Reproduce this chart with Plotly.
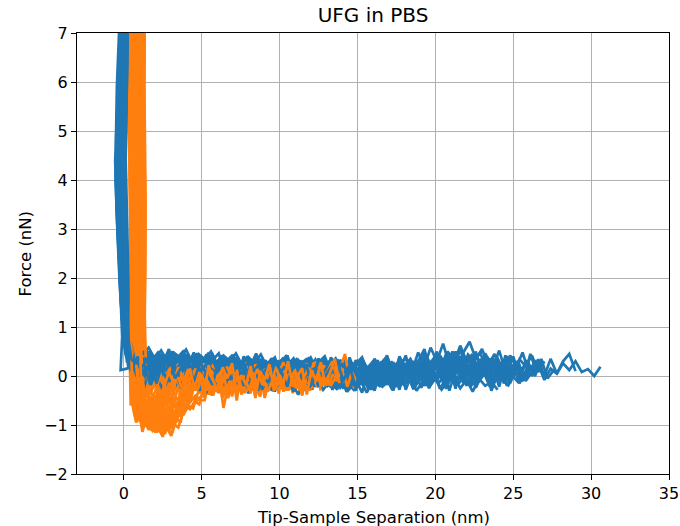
import plotly.graph_objects as go

# ---------------- data ----------------
title_text = "UFG in PBS"
x_label = "Tip-Sample Separation (nm)"
y_label = "Force (nN)"
x_ticks = [0, 5, 10, 15, 20, 25, 30, 35]
y_ticks = [-2, -1, 0, 1, 2, 3, 4, 5, 6, 7]

# separation samples (nm) of the baseline parts (four sampling sets)
approach_sep_grid_a = [
    0.6, 1.0, 1.4, 1.8, 2.2, 2.6, 3.0, 3.4, 3.8, 4.2,
    4.6, 5.0, 5.4, 5.8, 6.2, 6.6, 7.0, 7.4, 7.8, 8.2,
    8.6, 9.0, 9.4, 9.8, 10.2, 10.6, 11.0, 11.4, 11.8, 12.2,
    12.6, 13.0, 13.4, 13.8, 14.2, 14.6, 15.0, 15.4, 15.8, 16.2,
    16.6, 17.0, 17.4, 17.8, 18.2, 18.6, 19.0, 19.4, 19.8, 20.2,
    20.6, 21.0, 21.4, 21.8, 22.2, 22.6, 23.0, 23.4, 23.8, 24.2,
    24.6, 25.0, 25.4, 25.8, 26.2, 26.6, 27.0, 27.4, 27.8, 28.2,
    28.6, 29.0, 29.4, 29.8, 30.2, 30.6]
approach_sep_grid_b = [
    0.8, 1.2, 1.6, 2.0, 2.4, 2.8, 3.2, 3.6, 4.0, 4.4,
    4.8, 5.2, 5.6, 6.0, 6.4, 6.8, 7.2, 7.6, 8.0, 8.4,
    8.8, 9.2, 9.6, 10.0, 10.4, 10.8, 11.2, 11.6, 12.0, 12.4,
    12.8, 13.2, 13.6, 14.0, 14.4, 14.8, 15.2, 15.6, 16.0, 16.4,
    16.8, 17.2, 17.6, 18.0, 18.4, 18.8, 19.2, 19.6, 20.0, 20.4,
    20.8, 21.2, 21.6, 22.0, 22.4, 22.8, 23.2, 23.6, 24.0, 24.4,
    24.8, 25.2, 25.6, 26.0, 26.4, 26.8, 27.2, 27.6]
approach_sep_grid_c = [
    0.7, 1.1, 1.5, 1.9, 2.3, 2.7, 3.1, 3.5, 3.9, 4.3,
    4.7, 5.1, 5.5, 5.9, 6.3, 6.7, 7.1, 7.5, 7.9, 8.3,
    8.7, 9.1, 9.5, 9.9, 10.3, 10.7, 11.1, 11.5, 11.9, 12.3,
    12.7, 13.1, 13.5, 13.9, 14.3, 14.7, 15.1, 15.5, 15.9, 16.3,
    16.7, 17.1, 17.5, 17.9, 18.3, 18.7, 19.1, 19.5, 19.9, 20.3,
    20.7, 21.1, 21.5, 21.9, 22.3, 22.7, 23.1, 23.5, 23.9, 24.3,
    24.7, 25.1, 25.5, 25.9, 26.3]
approach_sep_grid_d = [
    0.9, 1.3, 1.7, 2.1, 2.5, 2.9, 3.3, 3.7, 4.1, 4.5,
    4.9, 5.3, 5.7, 6.1, 6.5, 6.9, 7.3, 7.7, 8.1, 8.5,
    8.9, 9.3, 9.7, 10.1, 10.5, 10.9, 11.3, 11.7, 12.1, 12.5,
    12.9, 13.3, 13.7, 14.1, 14.5, 14.9, 15.3, 15.7, 16.1, 16.5,
    16.9, 17.3, 17.7, 18.1, 18.5, 18.9, 19.3, 19.7, 20.1, 20.5,
    20.9, 21.3, 21.7, 22.1, 22.5, 22.9, 23.3, 23.7, 24.1, 24.5,
    24.9, 25.3, 25.7, 26.1, 26.5]
retract_sep_grid_a = [
    1.6, 1.9, 2.2, 2.5, 2.8, 3.1, 3.4, 3.7, 4.0, 4.3,
    4.6, 4.9, 5.2, 5.5, 5.8, 6.1, 6.4, 6.7, 7.0, 7.3,
    7.6, 7.9, 8.2, 8.5, 8.8, 9.1, 9.4, 9.7, 10.0, 10.3,
    10.6, 10.9, 11.2, 11.5, 11.8, 12.1, 12.4, 12.7, 13.0, 13.3,
    13.6, 13.9, 14.2, 14.5, 14.8, 15.1, 15.4, 15.7]
retract_sep_grid_b = [
    1.75, 2.05, 2.35, 2.65, 2.95, 3.25, 3.55, 3.85, 4.15, 4.45,
    4.75, 5.05, 5.35, 5.65, 5.95, 6.25, 6.55, 6.85, 7.15, 7.45,
    7.75, 8.05, 8.35, 8.65, 8.95, 9.25, 9.55, 9.85, 10.15, 10.45,
    10.75, 11.05, 11.35, 11.65, 11.95, 12.25, 12.55, 12.85, 13.15, 13.45,
    13.75, 14.05, 14.35, 14.65, 14.95]
retract_sep_grid_c = [
    1.7, 2.0, 2.3, 2.6, 2.9, 3.2, 3.5, 3.8, 4.1, 4.4,
    4.7, 5.0, 5.3, 5.6, 5.9, 6.2, 6.5, 6.8, 7.1, 7.4,
    7.7, 8.0, 8.3, 8.6, 8.9, 9.2, 9.5, 9.8, 10.1, 10.4,
    10.7, 11.0, 11.3, 11.6, 11.9, 12.2, 12.5, 12.8, 13.1, 13.4,
    13.7, 14.0, 14.3]
retract_sep_grid_d = [
    1.85, 2.15, 2.45, 2.75, 3.05, 3.35, 3.65, 3.95, 4.25, 4.55,
    4.85, 5.15, 5.45, 5.75, 6.05, 6.35, 6.65, 6.95, 7.25, 7.55,
    7.85, 8.15, 8.45, 8.75, 9.05, 9.35, 9.65, 9.95, 10.25, 10.55,
    10.85, 11.15, 11.45, 11.75, 12.05, 12.35, 12.65, 12.95, 13.25, 13.55,
    13.85]

# ---- approach curves, set a: contact wall + baseline on grid a ----
approach_wall_sep_a = [
    [0.20, 0.12, 0.02, -0.05, 0.05, 0.15, 0.25, 0.35],
    [0.05, -0.05, -0.20, -0.30, -0.15, 0.00, 0.15, 0.30],
    [-0.15, -0.25, -0.40, -0.50, -0.35, -0.20, -0.10, -0.20, 0.20],
    [0.28, 0.22, 0.15, 0.10, 0.18, 0.26, 0.32, 0.38],
    [-0.05, -0.12, -0.30, -0.45, -0.30, -0.10, 0.05, 0.20],
    [0.10, 0.00, -0.10, -0.20, -0.10, 0.05, 0.20, 0.30],
    [-0.22, -0.30, -0.45, -0.52, -0.40, -0.25, -0.05, 0.15],
    [0.15, 0.08, -0.02, -0.10, 0.00, 0.12, 0.24, 0.32],
    [0.00, -0.08, -0.25, -0.35, -0.22, -0.05, 0.10, 0.28],
    [0.25, 0.18, 0.08, 0.02, 0.12, 0.22, 0.30, 0.40],
]
approach_wall_force_a = [
    [7.8, 6.4, 5.1, 3.9, 2.7, 1.5, 0.8, 0.45],
    [7.8, 6.6, 5.3, 4.1, 2.9, 1.7, 0.9, 0.5],
    [7.8, 6.5, 5.0, 4.0, 2.8, 1.6, 0.8, 0.12, 0.15],
    [7.8, 6.3, 5.2, 3.8, 2.6, 1.4, 0.7, 0.35],
    [7.8, 6.5, 5.1, 4.2, 3.0, 1.8, 0.9, 0.3],
    [7.8, 6.2, 4.8, 3.6, 2.4, 1.3, 0.6, 0.25],
    [7.8, 6.4, 5.0, 4.0, 2.9, 1.8, 1.0, 0.4],
    [7.8, 6.6, 5.4, 4.2, 3.0, 1.9, 1.0, 0.55],
    [7.8, 6.3, 4.9, 3.7, 2.5, 1.4, 0.7, 0.2],
    [7.8, 6.5, 5.2, 4.0, 2.8, 1.6, 0.8, 0.4],
]
approach_base_force_a = [
    [0.42, 0.30, 0.45, 0.22, 0.38, 0.18, 0.33, 0.12, 0.29, 0.20,
     0.36, 0.08, 0.25, 0.15, 0.31, 0.05, 0.22, 0.27, 0.10, 0.24,
     0.02, 0.19, 0.28, 0.09, 0.21, 0.14, 0.30, 0.04, 0.17, 0.23,
     0.07, 0.26, 0.12, 0.01, 0.16],
    [0.35, 0.20, 0.28, 0.05, 0.24, -0.02, 0.18, 0.10, 0.22, -0.05,
     0.14, 0.02, 0.19, -0.08, 0.12, 0.06, -0.03, 0.15, -0.10, 0.09,
     0.01, 0.13, -0.06, 0.08, 0.17, -0.04, 0.05, 0.11, -0.12, 0.07,
     0.14, -0.02, 0.10, -0.07, 0.04, 0.12, -0.05, 0.08, 0.00, 0.10,
     0.03],
    [0.22, 0.40, 0.15, 0.32, 0.08, 0.27, 0.19, 0.35, 0.05, 0.24,
     0.12, 0.30, -0.02, 0.20, 0.10, 0.26, 0.03, 0.18, 0.09, 0.28,
     -0.05, 0.15, 0.22, 0.01, 0.19, 0.07, 0.25, -0.04, 0.14, 0.08,
     0.21, 0.00, 0.16, 0.11, -0.06, 0.18, 0.05, 0.23, -0.02, 0.12,
     0.07, 0.20, -0.03, 0.14, 0.09, 0.02, 0.17, 0.06],
    [0.50, 0.38, 0.55, 0.30, 0.46, 0.25, 0.41, 0.33, 0.48, 0.20,
     0.37, 0.28, 0.42, 0.16, 0.34, 0.24, 0.39, 0.12, 0.30, 0.22,
     0.35, 0.10, 0.27, 0.18, 0.33, 0.08, 0.25, 0.30, 0.14, 0.28,
     0.06, 0.22, 0.17, 0.31, 0.09, 0.24, 0.13, 0.29, 0.05, 0.20,
     0.15, 0.32, 0.07, 0.23, 0.11, 0.27, 0.02, 0.19, 0.14, 0.30,
     0.08, 0.25, 0.12, 0.35],
    [0.28, 0.10, 0.20, -0.05, 0.15, -0.12, 0.08, 0.02, 0.18, -0.15,
     0.05, -0.08, 0.12, -0.20, 0.03, 0.10, -0.10, 0.06, -0.25, 0.00,
     0.09, -0.14, 0.04, -0.06, 0.11, -0.18, 0.02, 0.07, -0.22, -0.03,
     0.08, -0.11, 0.05, -0.16, 0.01, 0.10, -0.09, 0.03, -0.19, 0.06,
     -0.04, 0.12, -0.13, 0.00, 0.09, -0.21, 0.04, -0.07, 0.11, -0.15,
     0.02, 0.14, -0.10, 0.06, -0.18, 0.08, -0.02, 0.16, -0.05],
    [0.45, 0.25, 0.38, 0.15, 0.33, 0.10, 0.28, 0.20, 0.36, 0.05,
     0.24, 0.14, 0.30, 0.02, 0.21, 0.12, 0.27, -0.02, 0.18, 0.09,
     0.25, 0.00, 0.16, 0.22, 0.04, 0.19, 0.11, 0.26, -0.03, 0.15,
     0.08, 0.23, 0.01, 0.17, 0.12, 0.28, -0.01, 0.14, 0.06, 0.24,
     0.03, 0.18, 0.10, 0.31, 0.05, 0.20, -0.04, 0.22, 0.12, 0.38,
     0.07, 0.26, 0.15, 0.42, 0.02, 0.19, 0.30, -0.02, 0.25, 0.10,
     0.33, 0.06, 0.20],
    [0.30, 0.05, 0.22, -0.08, 0.14, -0.02, 0.18, -0.12, 0.10, 0.00,
     0.16, -0.18, 0.06, -0.05, 0.12, -0.25, 0.02, 0.08, -0.15, 0.04,
     -0.30, 0.00, 0.10, -0.12, 0.05, -0.06, 0.13, -0.20, 0.01, 0.07,
     -0.10, 0.11, -0.28, 0.03, -0.04, 0.09, -0.16, 0.06, -0.08, 0.14,
     -0.22, 0.02, 0.08, -0.12, 0.05, -0.26, 0.00, 0.12, -0.09, 0.07,
     -0.18, 0.04, 0.15, -0.14, 0.09, -0.24, 0.03, 0.18, -0.06, 0.11,
     -0.20, 0.06, 0.22, -0.10, 0.08],
    [0.55, 0.40, 0.52, 0.32, 0.48, 0.28, 0.44, 0.36, 0.50, 0.25,
     0.40, 0.30, 0.45, 0.20, 0.38, 0.27, 0.41, 0.18, 0.34, 0.24,
     0.37, 0.15, 0.30, 0.22, 0.35, 0.12, 0.28, 0.20, 0.33, 0.10,
     0.26, 0.18, 0.31, 0.08, 0.24, 0.16, 0.30, 0.06, 0.22, 0.14,
     0.28, 0.05, 0.20, 0.12, 0.26, 0.04, 0.19, 0.30, 0.10, 0.25,
     0.15, 0.36, 0.20, 0.48, 0.70, 0.35, 0.55, 0.22, 0.45, 0.15,
     0.40, 0.10, 0.34, 0.20, 0.42, 0.08, 0.30],
    [0.20, 0.02, 0.12, -0.10, 0.08, -0.15, 0.05, -0.04, 0.10, -0.20,
     0.00, 0.06, -0.12, 0.03, -0.22, 0.01, 0.07, -0.16, -0.02, 0.05,
     -0.25, 0.00, 0.04, -0.14, 0.08, -0.08, -0.20, 0.02, 0.06, -0.18,
     -0.03, 0.05, -0.12, 0.09, -0.24, 0.00, 0.03, -0.15, 0.07, -0.06,
     -0.21, 0.02, 0.08, -0.10, 0.04, -0.27, 0.01, 0.10, -0.13, 0.05,
     -0.18, 0.06, 0.14, -0.08, 0.12, -0.22, 0.04, 0.16, -0.12, 0.08,
     -0.05, 0.20, -0.15, 0.10, 0.02, 0.25, -0.08, 0.15, 0.05, 0.30,
     0.45, 0.10],
    [0.40, 0.22, 0.35, 0.10, 0.30, 0.05, 0.26, 0.15, 0.32, 0.00,
     0.20, 0.12, 0.28, -0.05, 0.18, 0.08, 0.24, -0.10, 0.14, 0.04,
     0.21, -0.06, 0.12, 0.18, -0.02, 0.15, 0.06, 0.22, -0.12, 0.10,
     0.03, 0.19, -0.04, 0.13, 0.08, 0.25, -0.08, 0.11, 0.02, 0.20,
     -0.03, 0.14, 0.06, 0.26, 0.00, 0.16, -0.10, 0.18, 0.09, 0.30,
     -0.05, 0.22, 0.12, 0.38, 0.15, 0.50, 0.05, 0.32, -0.10, 0.24,
     0.08, 0.40, -0.02, 0.28, 0.10, 0.34, 0.00, 0.35, 0.05, 0.26,
     0.12, 0.30, 0.08, 0.14, 0.00, 0.19],
]

# ---- approach curves, set b ----
approach_wall_sep_b = [
    [0.10, 0.02, -0.12, -0.25, -0.18, -0.05, 0.10, 0.30, 0.55],
    [-0.08, -0.18, -0.32, -0.42, -0.28, -0.12, 0.02, 0.20, 0.50],
    [0.22, 0.15, 0.05, -0.02, 0.08, 0.18, 0.28, 0.45, 0.65],
    [-0.12, -0.22, -0.38, -0.48, -0.38, -0.22, -0.08, 0.12, 0.45],
    [0.05, -0.02, -0.15, -0.22, -0.12, 0.02, 0.18, 0.35, 0.60],
    [0.18, 0.10, 0.00, -0.08, 0.02, 0.15, 0.26, 0.40, 0.62],
    [-0.18, -0.26, -0.42, -0.55, -0.45, -0.30, -0.12, 0.10, 0.40],
    [0.30, 0.25, 0.18, 0.12, 0.20, 0.28, 0.34, 0.50, 0.70],
    [-0.02, -0.10, -0.22, -0.32, -0.20, -0.06, 0.08, 0.25, 0.50],
    [0.12, 0.05, -0.06, -0.15, -0.05, 0.08, 0.22, 0.38, 0.58],
]
approach_wall_force_b = [
    [7.8, 6.8, 5.6, 4.5, 3.3, 2.2, 1.2, 0.6, 0.35],
    [7.8, 6.7, 5.5, 4.4, 3.2, 2.0, 1.1, 0.5, 0.25],
    [7.8, 6.9, 5.7, 4.6, 3.4, 2.3, 1.3, 0.6, 0.4],
    [7.8, 6.6, 5.4, 4.3, 3.1, 2.0, 1.0, 0.45, 0.3],
    [7.8, 6.8, 5.5, 4.3, 3.2, 2.1, 1.1, 0.5, 0.2],
    [7.8, 6.7, 5.6, 4.4, 3.3, 2.2, 1.2, 0.55, 0.45],
    [7.8, 6.6, 5.4, 4.4, 3.3, 2.2, 1.2, 0.5, 0.15],
    [7.8, 6.8, 5.6, 4.5, 3.4, 2.3, 1.2, 0.6, 0.3],
    [7.8, 6.9, 5.7, 4.5, 3.3, 2.1, 1.1, 0.5, 0.1],
    [7.8, 6.7, 5.5, 4.4, 3.2, 2.0, 1.0, 0.45, 0.3],
]
approach_base_force_b = [
    [0.40, 0.25, 0.45, 0.18, 0.38, 0.22, 0.42, 0.15, 0.35, 0.28,
     0.40, 0.12, 0.32, 0.20, 0.36, 0.10, 0.30, 0.24, 0.38, 0.08,
     0.28, 0.16, 0.34, 0.06, 0.25, 0.18, 0.32, 0.10, 0.22],
    [0.15, -0.05, 0.10, -0.15, 0.05, -0.20, 0.02, -0.10, 0.08, -0.25,
     -0.02, 0.06, -0.18, 0.00, -0.28, -0.05, 0.04, -0.22, -0.08, 0.05,
     -0.30, -0.02, -0.12, 0.06, -0.20, -0.04, 0.03, -0.26, -0.06, 0.08,
     -0.16, -0.02, -0.24, 0.04, -0.12, -0.30, 0.00, -0.10],
    [0.48, 0.30, 0.50, 0.22, 0.40, 0.15, 0.36, 0.26, 0.44, 0.12,
     0.32, 0.20, 0.38, 0.08, 0.28, 0.18, 0.34, 0.05, 0.25, 0.14,
     0.30, 0.02, 0.22, 0.12, 0.28, -0.02, 0.18, 0.26, 0.06, 0.20,
     0.10, 0.27, 0.00, 0.16, 0.08, 0.24, -0.04, 0.15, 0.22, 0.05,
     0.18, 0.28, 0.02, 0.14],
    [0.30, 0.12, 0.26, 0.00, 0.20, -0.06, 0.16, 0.04, 0.22, -0.10,
     0.12, 0.02, 0.18, -0.14, 0.08, 0.14, -0.08, 0.10, -0.18, 0.05,
     0.12, -0.12, 0.06, 0.15, -0.06, 0.08, -0.16, 0.04, 0.11, -0.10,
     0.07, 0.16, -0.05, 0.09, -0.14, 0.03, 0.12, -0.08, 0.06, 0.14,
     -0.12, 0.05, 0.10, -0.04, 0.18, -0.10, 0.08, 0.02, 0.20, -0.06],
    [0.55, 0.42, 0.58, 0.35, 0.52, 0.30, 0.48, 0.38, 0.54, 0.28,
     0.45, 0.34, 0.50, 0.25, 0.42, 0.30, 0.46, 0.22, 0.38, 0.28,
     0.44, 0.18, 0.34, 0.26, 0.40, 0.15, 0.32, 0.24, 0.38, 0.12,
     0.30, 0.22, 0.36, 0.10, 0.28, 0.20, 0.34, 0.14, 0.30, 0.22,
     0.36, 0.12, 0.28, 0.20, 0.35, 0.10, 0.30, 0.24, 0.40, 0.18,
     0.50, 0.28, 0.62, 0.30, 0.45],
    [0.10, -0.12, 0.05, -0.20, 0.00, -0.25, -0.05, -0.15, 0.02, -0.28,
     -0.08, -0.18, 0.00, -0.32, -0.10, -0.02, -0.26, -0.12, -0.35, -0.06,
     -0.20, -0.10, -0.30, -0.04, -0.22, -0.14, -0.38, -0.08, -0.18, -0.02,
     -0.28, -0.12, -0.22, -0.05, -0.30, -0.15, -0.08, -0.34, -0.10, -0.20,
     -0.02, -0.26, -0.12, -0.18, -0.04, -0.30, -0.10, -0.22, -0.06, -0.28,
     -0.12, -0.02, -0.25, -0.08, -0.32, -0.05, -0.20, -0.12, -0.28],
    [0.38, 0.20, 0.42, 0.12, 0.30, 0.06, 0.26, 0.16, 0.34, 0.02,
     0.22, 0.10, 0.28, -0.02, 0.18, 0.08, 0.24, -0.05, 0.15, 0.20,
     0.02, 0.17, 0.08, 0.26, -0.06, 0.13, 0.04, 0.22, -0.02, 0.16,
     0.09, 0.24, -0.04, 0.12, 0.05, 0.20, -0.08, 0.14, 0.06, 0.22,
     0.00, 0.15, 0.08, 0.26, -0.05, 0.12, 0.20, 0.02, 0.28, 0.10,
     0.32, 0.05, 0.40, 0.12, 0.30, -0.04, 0.22, 0.08, 0.35, 0.00,
     0.18, 0.10],
    [0.22, 0.00, 0.15, -0.10, 0.10, -0.16, 0.06, -0.04, 0.12, -0.20,
     0.02, -0.08, 0.10, -0.22, 0.00, 0.06, -0.15, 0.04, -0.26, -0.02,
     0.08, -0.12, 0.02, -0.18, 0.06, -0.08, 0.10, -0.24, -0.02, 0.05,
     -0.14, 0.08, -0.20, 0.00, 0.06, -0.10, 0.12, -0.18, 0.02, -0.06,
     0.08, -0.22, 0.04, -0.02, 0.10, -0.16, 0.05, -0.25, 0.00, 0.14,
     -0.12, 0.06, 0.20, -0.20, 0.08, -0.06, 0.22, -0.30, 0.04, 0.12,
     -0.15, 0.18, -0.08, 0.05],
    [0.50, 0.32, 0.46, 0.24, 0.40, 0.20, 0.44, 0.28, 0.38, 0.16,
     0.34, 0.22, 0.40, 0.12, 0.30, 0.20, 0.36, 0.10, 0.28, 0.18,
     0.33, 0.08, 0.26, 0.16, 0.31, 0.06, 0.22, 0.14, 0.28, 0.04,
     0.20, 0.30, 0.10, 0.24, 0.02, 0.18, 0.27, 0.08, 0.22, 0.12,
     0.29, 0.05, 0.20, 0.14, 0.32, 0.08, 0.26, 0.18, 0.38, 0.12,
     0.44, 0.20, 0.52, 0.25, 0.40, 0.15, 0.46, 0.22, 0.36, 0.10,
     0.42, 0.18, 0.48, 0.08, 0.30, 0.15],
    [0.28, 0.08, 0.22, -0.04, 0.18, -0.10, 0.14, 0.02, 0.20, -0.12,
     0.10, -0.02, 0.16, -0.15, 0.06, 0.12, -0.10, 0.08, -0.18, 0.04,
     0.14, -0.08, 0.10, -0.14, 0.06, 0.16, -0.06, 0.09, -0.20, 0.02,
     0.12, -0.05, 0.15, -0.12, 0.04, 0.10, -0.18, 0.06, 0.13, -0.04,
     0.08, -0.16, 0.11, 0.02, 0.18, -0.10, 0.05, 0.20, -0.08, 0.12,
     0.25, -0.05, 0.30, 0.02, 0.35, -0.12, 0.20, 0.08, 0.28, -0.15,
     0.15, 0.30, -0.10, 0.22, 0.00, 0.35, -0.05, 0.12],
]

# ---- approach curves, set c ----
approach_wall_sep_c = [
    [0.08, 0.00, -0.15, -0.28, -0.20, -0.08, 0.06, 0.22, 0.45],
    [-0.10, -0.20, -0.35, -0.46, -0.35, -0.18, -0.02, 0.15, 0.40],
    [0.26, 0.20, 0.12, 0.04, 0.12, 0.22, 0.30, 0.42, 0.60],
    [-0.04, -0.14, -0.28, -0.38, -0.26, -0.10, 0.04, 0.20, 0.48],
    [0.14, 0.06, -0.05, -0.12, -0.02, 0.10, 0.22, 0.36, 0.55],
    [-0.20, -0.28, -0.44, -0.50, -0.40, -0.26, -0.10, 0.08, 0.35],
    [0.02, -0.06, -0.18, -0.26, -0.16, -0.02, 0.12, 0.28, 0.52],
    [0.20, 0.14, 0.06, 0.00, 0.08, 0.18, 0.28, 0.42, 0.62],
    [-0.14, -0.22, -0.36, -0.44, -0.32, -0.16, 0.00, 0.18, 0.42],
    [0.06, -0.02, -0.12, -0.20, -0.10, 0.04, 0.16, 0.32, 0.56],
]
approach_wall_force_c = [
    [7.8, 7.1, 6.0, 4.8, 3.7, 2.5, 1.5, 0.7, 0.3],
    [7.8, 7.0, 5.8, 4.7, 3.5, 2.4, 1.4, 0.6, 0.2],
    [7.8, 7.0, 5.9, 4.8, 3.6, 2.5, 1.4, 0.7, 0.45],
    [7.8, 7.1, 6.0, 4.9, 3.8, 2.6, 1.5, 0.6, 0.1],
    [7.8, 7.0, 5.8, 4.6, 3.5, 2.4, 1.3, 0.55, 0.35],
    [7.8, 7.1, 5.9, 4.8, 3.6, 2.5, 1.4, 0.6, 0.25],
    [7.8, 7.0, 5.8, 4.7, 3.6, 2.4, 1.3, 0.5, 0.0],
    [7.8, 7.1, 6.0, 4.8, 3.7, 2.6, 1.5, 0.7, 0.5],
    [7.8, 7.0, 5.9, 4.8, 3.6, 2.5, 1.4, 0.6, 0.3],
    [7.8, 7.1, 6.0, 4.9, 3.7, 2.5, 1.4, 0.6, 0.15],
]
approach_base_force_c = [
    [0.32, 0.05, 0.28, -0.08, 0.22, 0.00, 0.35, -0.05, 0.18, 0.08,
     0.30, -0.12, 0.15, 0.02, 0.26, -0.10, 0.12, 0.20, -0.04, 0.24,
     -0.14, 0.10, 0.18, -0.06, 0.14, 0.04, 0.20],
    [0.52, 0.30, 0.48, 0.20, 0.44, 0.26, 0.50, 0.18, 0.40, 0.28,
     0.46, 0.14, 0.36, 0.22, 0.42, 0.10, 0.32, 0.26, 0.38, 0.08,
     0.30, 0.18, 0.36, 0.06, 0.28, 0.20, 0.34, 0.12, 0.38, 0.05,
     0.26, 0.16, 0.30],
    [0.20, -0.05, 0.12, -0.18, 0.06, -0.22, 0.02, -0.10, 0.10, -0.25,
     -0.04, 0.05, -0.20, -0.08, 0.08, -0.28, -0.02, -0.15, 0.04, -0.22,
     -0.10, 0.02, -0.30, -0.06, 0.06, -0.18, -0.12, 0.00, -0.26, -0.04,
     0.05, -0.20, -0.10, 0.03, -0.32, -0.08, 0.00, -0.16, -0.05],
    [0.35, 0.18, 0.42, 0.10, 0.30, 0.22, 0.38, 0.05, 0.28, 0.16,
     0.34, 0.02, 0.24, 0.12, 0.30, -0.02, 0.20, 0.26, 0.06, 0.22,
     0.14, 0.32, 0.00, 0.18, 0.10, 0.28, -0.04, 0.16, 0.24, 0.04,
     0.20, 0.12, 0.30, -0.02, 0.15, 0.25, 0.05, 0.22, 0.10, 0.32,
     0.00, 0.18, 0.12, 0.26],
    [0.25, 0.02, 0.18, -0.12, 0.10, -0.06, 0.22, -0.16, 0.05, 0.00,
     0.14, -0.20, 0.04, -0.08, 0.12, -0.24, -0.02, 0.08, -0.14, 0.02,
     -0.28, 0.06, -0.04, 0.10, -0.18, 0.00, 0.08, -0.12, 0.14, -0.22,
     0.02, -0.06, 0.10, -0.16, 0.04, -0.26, 0.00, 0.12, -0.10, 0.06,
     -0.20, 0.02, 0.10, -0.14, -0.02, 0.08, -0.24, 0.04, -0.06],
    [0.48, 0.28, 0.44, 0.22, 0.40, 0.16, 0.36, 0.30, 0.46, 0.14,
     0.34, 0.24, 0.40, 0.10, 0.30, 0.20, 0.36, 0.08, 0.26, 0.18,
     0.32, 0.06, 0.24, 0.30, 0.12, 0.28, 0.04, 0.22, 0.16, 0.34,
     0.08, 0.26, 0.14, 0.30, 0.02, 0.20, 0.28, 0.10, 0.24, 0.16,
     0.32, 0.06, 0.22, 0.14, 0.30, 0.08, 0.26, 0.36, 0.12, 0.42,
     0.20, 0.50, 0.18],
    [0.10, -0.10, 0.06, -0.20, 0.02, -0.14, 0.08, -0.24, -0.02, -0.10,
     0.05, -0.28, -0.06, 0.02, -0.18, -0.08, 0.06, -0.22, -0.02, -0.12,
     0.04, -0.30, -0.04, 0.06, -0.16, -0.06, 0.08, -0.26, -0.10, 0.02,
     -0.20, -0.04, 0.05, -0.24, -0.08, 0.04, -0.14, -0.02, -0.28, 0.02,
     -0.10, 0.06, -0.18, -0.04, 0.10, -0.22, 0.00, -0.12, 0.08, -0.26,
     -0.04, 0.12, -0.16, 0.04, -0.20, 0.00],
    [0.45, 0.26, 0.40, 0.18, 0.36, 0.10, 0.30, 0.22, 0.38, 0.06,
     0.26, 0.16, 0.32, 0.04, 0.22, 0.14, 0.28, 0.00, 0.20, 0.12,
     0.26, -0.02, 0.18, 0.10, 0.24, 0.02, 0.16, 0.28, 0.06, 0.20,
     0.10, 0.26, -0.04, 0.14, 0.08, 0.22, 0.02, 0.18, 0.12, 0.28,
     0.00, 0.16, 0.08, 0.24, 0.04, 0.20, 0.30, 0.06, 0.34, 0.14,
     0.45, 0.10, 0.38, 0.02, 0.30, 0.16, 0.40, 0.08, 0.24],
    [0.30, 0.08, 0.24, -0.06, 0.16, -0.12, 0.10, 0.02, 0.20, -0.16,
     0.06, -0.04, 0.14, -0.20, 0.02, 0.08, -0.12, 0.04, -0.22, 0.00,
     0.10, -0.10, 0.06, -0.18, 0.02, 0.12, -0.08, 0.04, -0.24, -0.02,
     0.08, -0.14, 0.06, -0.06, 0.12, -0.20, 0.00, 0.06, -0.16, 0.04,
     -0.08, 0.10, -0.22, 0.02, 0.08, -0.12, 0.14, -0.18, 0.04, 0.10,
     -0.26, 0.06, 0.16, -0.10, 0.20, -0.14, 0.08, -0.22, 0.12, 0.00,
     -0.18, 0.06],
    [0.36, 0.16, 0.32, 0.06, 0.28, 0.12, 0.34, 0.00, 0.22, 0.14,
     0.30, -0.04, 0.18, 0.08, 0.26, -0.08, 0.14, 0.20, 0.02, 0.16,
     -0.06, 0.12, 0.22, 0.00, 0.18, 0.06, 0.24, -0.10, 0.10, 0.16,
     0.02, 0.20, 0.08, -0.06, 0.14, 0.24, 0.00, 0.12, 0.18, -0.04,
     0.10, 0.20, 0.04, 0.16, -0.08, 0.12, 0.26, 0.02, 0.22, 0.34,
     0.08, 0.40, 0.14, 0.30, -0.02, 0.26, 0.10, 0.36, 0.00, 0.28,
     -0.08, 0.22, 0.10, 0.32, 0.05],
]

# ---- approach curves, set d ----
approach_wall_sep_d = [
    [0.16, 0.08, -0.06, -0.18, -0.10, 0.04, 0.18, 0.40, 0.70],
    [-0.06, -0.16, -0.30, -0.40, -0.30, -0.14, 0.04, 0.30, 0.65],
    [0.24, 0.18, 0.10, 0.06, 0.14, 0.24, 0.32, 0.50, 0.75],
    [-0.16, -0.24, -0.40, -0.48, -0.36, -0.20, -0.04, 0.25, 0.60],
    [0.04, -0.04, -0.16, -0.24, -0.14, 0.00, 0.14, 0.38, 0.72],
    [0.12, 0.04, -0.08, -0.16, -0.06, 0.08, 0.22, 0.45, 0.78],
    [-0.12, -0.20, -0.34, -0.42, -0.30, -0.16, 0.00, 0.28, 0.62],
    [0.28, 0.22, 0.14, 0.08, 0.16, 0.26, 0.34, 0.52, 0.80],
    [-0.02, -0.10, -0.24, -0.34, -0.24, -0.08, 0.08, 0.35, 0.68],
    [0.18, 0.10, 0.00, -0.06, 0.04, 0.16, 0.28, 0.48, 0.76],
]
approach_wall_force_d = [
    [7.8, 6.2, 5.0, 3.8, 2.6, 1.5, 0.8, 0.4, 0.1],
    [7.8, 6.3, 5.1, 3.9, 2.7, 1.6, 0.9, 0.5, 0.45],
    [7.8, 6.1, 4.9, 3.7, 2.5, 1.4, 0.8, 0.2, -0.1],
    [7.8, 6.4, 5.2, 4.0, 2.8, 1.7, 0.9, 0.55, 0.3],
    [7.8, 6.2, 5.0, 3.8, 2.6, 1.5, 0.7, 0.35, 0.5],
    [7.8, 6.3, 5.1, 3.9, 2.7, 1.6, 0.8, 0.3, 0.0],
    [7.8, 6.1, 4.9, 3.7, 2.5, 1.4, 0.8, 0.45, 0.2],
    [7.8, 6.4, 5.2, 4.0, 2.8, 1.7, 0.9, 0.5, 0.35],
    [7.8, 6.2, 5.0, 3.8, 2.6, 1.5, 0.7, 0.4, 0.15],
    [7.8, 6.3, 5.1, 3.9, 2.7, 1.6, 0.8, 0.35, 0.25],
]
approach_base_force_d = [
    [0.45, -0.10, 0.30, 0.38, -0.15, 0.20, -0.05, 0.42, 0.10, -0.20,
     0.35, 0.25, -0.12, 0.05, 0.40, -0.18, 0.28, 0.00, -0.25, 0.32,
     0.15, -0.08, 0.36, -0.22, 0.12, 0.30, -0.10, 0.22, -0.28, 0.18,
     0.34, -0.05],
    [0.05, 0.52, 0.20, -0.12, 0.46, 0.00, 0.35, -0.18, 0.40, 0.28,
     -0.08, 0.44, 0.10, -0.22, 0.30, 0.38, -0.05, 0.25, -0.15, 0.36,
     0.02, 0.30, -0.20, 0.15, 0.42, -0.10, 0.22, 0.05, -0.26, 0.34,
     0.12, -0.06, 0.28, -0.18, 0.38, 0.00, 0.20, -0.12, 0.26],
    [-0.30, 0.20, -0.05, 0.32, -0.22, 0.10, 0.25, -0.28, 0.05, 0.30,
     -0.12, -0.32, 0.18, 0.02, -0.20, 0.28, -0.15, 0.08, -0.35, 0.15,
     0.22, -0.25, -0.02, 0.26, -0.18, 0.06, -0.30, 0.20, 0.00, -0.22,
     0.24, -0.10, -0.28, 0.14, 0.28, -0.16, 0.04, -0.26, 0.18, -0.08,
     0.22, -0.30, 0.10, -0.04],
    [0.55, 0.10, 0.48, 0.22, 0.05, 0.50, 0.30, -0.02, 0.44, 0.15,
     0.38, -0.05, 0.32, 0.46, 0.08, 0.26, -0.10, 0.40, 0.18, 0.02,
     0.36, -0.06, 0.30, 0.12, 0.42, -0.08, 0.24, 0.34, 0.00, 0.20,
     -0.12, 0.38, 0.10, 0.28, -0.04, 0.32, 0.16, -0.10, 0.35, 0.06,
     0.26, -0.08, 0.40, 0.12, 0.30, -0.02, 0.48, 0.18],
    [0.20, -0.20, 0.28, 0.00, -0.28, 0.22, 0.10, -0.15, 0.32, -0.08,
     0.05, -0.30, 0.18, 0.26, -0.12, 0.02, -0.25, 0.20, -0.05, 0.30,
     -0.18, 0.08, -0.32, 0.12, 0.24, -0.10, 0.00, -0.26, 0.22, -0.04,
     0.14, -0.22, 0.28, -0.14, 0.06, -0.30, 0.16, 0.02, -0.20, 0.26,
     -0.06, 0.10, -0.28, 0.20, -0.12, 0.30, 0.04, -0.18, 0.36, -0.10,
     0.24, -0.22],
    [0.35, 0.12, -0.15, 0.40, 0.05, 0.28, -0.10, 0.45, 0.18, -0.05,
     0.32, 0.22, -0.18, 0.10, 0.38, -0.02, 0.25, -0.20, 0.30, 0.08,
     0.34, -0.12, 0.15, 0.28, -0.06, 0.36, 0.02, -0.16, 0.26, 0.12,
     -0.08, 0.32, -0.20, 0.18, 0.30, -0.04, 0.22, -0.14, 0.35, 0.06,
     -0.18, 0.28, 0.10, 0.42, -0.08, 0.30, 0.55, 0.05, 0.40, -0.12,
     0.46, 0.15, -0.05, 0.38, 0.10],
    [0.00, -0.25, 0.22, -0.10, 0.30, -0.30, 0.12, 0.02, -0.22, 0.25,
     -0.05, -0.35, 0.15, 0.08, -0.20, 0.28, -0.14, 0.04, -0.32, 0.18,
     0.00, -0.18, 0.24, -0.26, 0.06, 0.20, -0.12, -0.30, 0.14, -0.02,
     0.22, -0.24, 0.08, -0.16, 0.26, -0.08, -0.34, 0.12, 0.02, -0.22,
     0.18, -0.12, 0.28, -0.28, 0.05, 0.15, -0.20, 0.30, -0.10, 0.20,
     -0.30, 0.12, 0.34, -0.18, 0.22, -0.06, 0.28, -0.24],
    [0.30, 0.50, 0.12, 0.42, 0.25, 0.55, 0.08, 0.38, 0.20, 0.48,
     0.02, 0.34, 0.44, 0.14, 0.28, 0.40, 0.00, 0.30, 0.18, 0.46,
     0.06, 0.26, 0.38, -0.04, 0.22, 0.36, 0.10, 0.32, -0.02, 0.28,
     0.40, 0.08, 0.20, 0.34, -0.06, 0.24, 0.38, 0.04, 0.30, 0.16,
     0.42, 0.00, 0.26, 0.36, 0.10, 0.48, 0.20, 0.58, 0.30, 0.66,
     0.22, 0.50, 0.12, 0.44, 0.30, 0.05, 0.40, 0.18, 0.52, 0.10,
     0.35],
    [-0.05, 0.25, -0.18, 0.15, 0.32, -0.12, 0.08, -0.25, 0.20, 0.02,
     -0.30, 0.18, -0.08, 0.26, -0.20, 0.10, -0.02, 0.30, -0.15, 0.05,
     -0.28, 0.16, 0.24, -0.10, 0.00, -0.32, 0.20, -0.06, 0.12, -0.22,
     0.28, -0.04, 0.06, -0.26, 0.18, -0.12, 0.22, 0.02, -0.30, 0.14,
     -0.08, 0.26, -0.18, 0.10, -0.02, 0.32, -0.20, 0.16, 0.36, -0.10,
     0.24, -0.26, 0.30, 0.04, -0.15, 0.35, -0.05, 0.20, -0.22, 0.28,
     0.02, -0.12, 0.18],
    [0.40, 0.00, 0.32, -0.15, 0.26, 0.44, -0.05, 0.18, 0.36, -0.12,
     0.28, 0.06, -0.18, 0.34, 0.14, -0.08, 0.30, -0.20, 0.22, 0.38,
     0.02, -0.14, 0.28, 0.10, -0.22, 0.32, 0.04, 0.24, -0.16, 0.36,
     -0.02, 0.18, 0.30, -0.10, 0.20, -0.24, 0.34, 0.08, -0.06, 0.26,
     0.12, -0.18, 0.38, 0.00, 0.22, -0.12, 0.40, 0.16, 0.50, -0.04,
     0.44, 0.10, 0.36, -0.15, 0.30, 0.48, 0.02, 0.38, -0.10, 0.42,
     0.12, 0.30, -0.05, 0.45, 0.08],
]

# ---- retract curves, set a: contact + adhesion, then grid a ----
retract_wall_sep_a = [
    [0.42, 0.38, 0.35, 0.40, 0.44, 0.40, 0.38, 0.45, 0.60, 0.85, 1.10, 1.35],
    [0.62, 0.58, 0.55, 0.60, 0.64, 0.60, 0.58, 0.68, 0.80, 0.95, 1.15, 1.40],
    [0.78, 0.72, 0.70, 0.75, 0.80, 0.76, 0.72, 0.80, 0.95, 1.10, 1.20, 1.40],
    [0.92, 0.88, 0.85, 0.90, 0.95, 0.92, 0.88, 0.95, 1.10, 1.25, 1.40],
    [1.08, 1.02, 1.00, 1.05, 1.10, 1.06, 1.02, 1.10, 1.25, 1.40],
    [1.22, 1.18, 1.15, 1.20, 1.25, 1.22, 1.18, 1.25, 1.35, 1.45],
    [1.32, 1.28, 1.25, 1.30, 1.36, 1.33, 1.30, 1.38, 1.48],
    [0.52, 0.48, 0.45, 0.50, 0.55, 0.52, 0.48, 0.60, 0.80, 1.00, 1.20, 1.40],
    [0.88, 0.82, 0.80, 0.86, 0.90, 0.86, 0.82, 0.92, 1.05, 1.20, 1.40],
    [1.18, 1.12, 1.10, 1.15, 1.20, 1.16, 1.12, 1.22, 1.35],
]
retract_wall_force_a = [
    [7.8, 6.4, 5.0, 3.8, 2.6, 1.5, 0.5, -0.60, -0.35, -0.15, 0.05, -0.20],
    [7.8, 6.6, 5.3, 4.1, 2.9, 1.7, 0.6, -0.40, -0.83, -0.60, -0.20, -0.05],
    [7.8, 6.3, 5.1, 3.9, 2.7, 1.5, 0.4, -0.30, -0.70, -0.95, -1.14, -0.90],
    [7.8, 6.5, 5.2, 4.0, 2.8, 1.6, 0.5, -0.25, -0.60, -0.80, -0.95],
    [7.8, 6.4, 5.0, 3.8, 2.6, 1.4, 0.3, -0.40, -0.75, -0.95],
    [7.8, 6.6, 5.3, 4.1, 2.9, 1.7, 0.6, -0.20, -0.55, -0.80],
    [7.8, 6.3, 5.1, 3.9, 2.7, 1.5, 0.4, -0.15, -0.35],
    [7.8, 6.5, 5.2, 4.0, 2.8, 1.6, 0.5, -0.30, -0.60, -0.75, -0.65, -0.85],
    [7.8, 6.6, 5.1, 3.9, 2.7, 1.5, 0.3, -0.20, -0.45, -0.62, -0.55],
    [7.8, 6.4, 5.2, 4.0, 2.8, 1.6, 0.5, -0.10, -0.35],
]
retract_base_force_a = [
    [0.02, -0.25, 0.10, -0.18, 0.05, -0.30, -0.02, 0.12, -0.22, 0.00,
     -0.15, 0.08, -0.28, -0.05, 0.06, -0.20, 0.03, -0.12, -0.26, 0.04,
     -0.08, 0.10, -0.18, -0.02, 0.07, -0.24, 0.00, -0.10, 0.12, -0.16,
     -0.04, 0.05, -0.22, 0.02, -0.12, 0.15, -0.08, -0.20, 0.08, -0.03,
     -0.18, 0.12, -0.10, 0.04, -0.15, 0.10, 0.05, -0.28],
    [-0.30, 0.05, -0.22, -0.08, -0.35, 0.00, -0.18, -0.40, -0.10, 0.08,
     -0.25, -0.05, -0.32, -0.12, 0.02, -0.28, -0.15, -0.45, -0.08, 0.05,
     -0.22, -0.12, -0.30, 0.00, -0.18],
    [-1.05, -0.88, -0.25, 0.05, -0.20, 0.10, -0.12, -0.30, 0.02, -0.18,
     0.08, -0.22, -0.05, 0.12, -0.15, -0.35, -0.02, 0.06, -0.20, -0.08,
     0.10, -0.25, 0.00, -0.12, 0.15, -0.18, -0.05, 0.08, -0.22, 0.03,
     -0.10, 0.14, -0.15, -0.02, 0.09, -0.20, 0.05, -0.12, 0.00],
    [-0.85, -1.03, -0.78, -0.20, 0.08, -0.15, 0.18, -0.10, -0.28, 0.05,
     -0.18, 0.12, -0.05, -0.30, 0.00, -0.15, 0.10, -0.22, -0.08, 0.06,
     -0.26, -0.02, 0.08, -0.18, -0.06, 0.12, -0.20, 0.00, -0.10],
    [-1.00, -0.85, -1.05, -1.24, -0.90, -0.78, -0.68, -0.20, 0.05, -0.12,
     0.15, -0.05, -0.25, 0.08, -0.10, 0.02, -0.20, 0.12, -0.08, -0.30,
     0.00, 0.10, -0.15, 0.05, -0.22, -0.02, 0.14, -0.12, 0.06, -0.18,
     0.02, -0.08, 0.16, -0.14, 0.00, -0.25, 0.08, -0.05, 0.12, -0.18,
     0.04, 0.20, -0.10],
    [-0.95, -0.82, -1.00, -0.85, -0.95, -0.75, -0.70, -0.72, -0.60, -0.48,
     -0.10, 0.12, -0.15, 0.05, -0.22, -0.02, 0.10, -0.18, -0.05, 0.08,
     -0.25, 0.02, -0.10, 0.14, -0.16, -0.04, 0.06, -0.20, 0.10, -0.08,
     -0.02, 0.12, -0.14, 0.04, -0.06],
    [-0.40, -0.55, -0.42, -0.60, -0.48, -0.58, -0.45, -0.55, -0.42, -0.52,
     -0.40, -0.50, -0.49, -0.05, 0.10, -0.18, 0.02, -0.28, -0.08, 0.08,
     -0.15, -0.32, -0.02, 0.10, -0.20, -0.06, 0.05, -0.24, -0.10, 0.12,
     -0.16, 0.00, -0.22, 0.06, -0.12, 0.02, -0.08],
    [-0.90, -0.80, -1.10, -0.30, -0.05, 0.20, -0.10, 0.05, -0.20, 0.12,
     -0.02, -0.25, 0.08, -0.12, 0.15, -0.05, -0.18, 0.04, -0.28, 0.00,
     0.10, -0.15, -0.04, 0.08, -0.22, 0.02, -0.10, 0.12, -0.06, -0.20,
     0.05, -0.12],
    [-0.70, -0.62, -0.50, -0.65, -0.30, 0.15, -0.08, 0.22, -0.15, 0.05,
     -0.25, 0.10, -0.02, -0.18, 0.14, -0.10, 0.06, -0.22, 0.00, 0.12,
     -0.12, 0.04, -0.20, 0.08, -0.06, 0.16, -0.14, 0.02, -0.08, 0.18,
     -0.18, 0.06, -0.04, 0.20, -0.12, 0.08, -0.22, 0.10, 0.00, 0.25,
     -0.10, 0.15, 0.45, -0.05, -0.25],
    [-0.40, -0.20, 0.05, -0.15, 0.20, -0.05, 0.10, -0.25, 0.02, -0.12,
     0.15, -0.08, 0.06, -0.30, -0.10, 0.04, -0.65, -0.20, 0.05, -0.12,
     0.12, -0.05, -0.22, 0.08, -0.02, 0.14, -0.18, 0.00, -0.10, 0.10,
     -0.25, 0.04, -0.06, 0.12, -0.15, 0.02, 0.18, -0.10, 0.06, -0.20,
     -0.02],
]

# ---- retract curves, set b ----
retract_wall_sep_b = [
    [0.40, 0.36, 0.34, 0.38, 0.42, 0.38, 0.36, 0.40, 0.55, 0.75, 1.00, 1.25, 1.50],
    [0.56, 0.52, 0.50, 0.54, 0.58, 0.55, 0.52, 0.58, 0.70, 0.90, 1.10, 1.30, 1.55],
    [0.72, 0.68, 0.66, 0.70, 0.75, 0.72, 0.68, 0.72, 0.85, 1.00, 1.20, 1.40, 1.60],
    [0.96, 0.92, 0.90, 0.94, 0.98, 0.95, 0.92, 0.98, 1.10, 1.25, 1.40, 1.60],
    [1.10, 1.06, 1.04, 1.08, 1.12, 1.10, 1.06, 1.12, 1.25, 1.40, 1.58],
    [1.26, 1.22, 1.20, 1.24, 1.28, 1.25, 1.22, 1.30, 1.42, 1.60],
    [1.36, 1.32, 1.30, 1.34, 1.38, 1.36, 1.33, 1.40, 1.52, 1.65],
    [0.66, 0.62, 0.60, 0.64, 0.68, 0.65, 0.62, 0.66, 0.80, 0.95, 1.15, 1.35, 1.55],
    [1.00, 0.96, 0.94, 0.98, 1.02, 1.00, 0.96, 1.02, 1.15, 1.30, 1.48, 1.65],
    [0.82, 0.78, 0.76, 0.80, 0.84, 0.80, 0.78, 0.84, 0.98, 1.12, 1.30, 1.50, 1.65],
]
retract_wall_force_b = [
    [7.8, 6.9, 5.7, 4.5, 3.3, 2.2, 1.1, 0.2, -0.45, -0.70, -0.90, -0.80, -1.00],
    [7.8, 6.8, 5.6, 4.4, 3.2, 2.1, 1.0, 0.1, -0.35, -0.55, -0.75, -0.95, -0.85],
    [7.8, 6.7, 5.5, 4.3, 3.1, 2.0, 0.9, 0.0, -0.50, -0.80, -0.70, -1.00, -1.08],
    [7.8, 6.8, 5.6, 4.5, 3.3, 2.2, 1.0, 0.15, -0.30, -0.65, -0.85, -0.75],
    [7.8, 6.9, 5.7, 4.5, 3.3, 2.1, 1.0, 0.1, -0.40, -0.60, -0.78],
    [7.8, 6.7, 5.5, 4.4, 3.2, 2.1, 1.0, 0.2, -0.25, -0.50],
    [7.8, 6.8, 5.6, 4.4, 3.2, 2.1, 1.0, 0.1, -0.20, -0.15],
    [7.8, 6.9, 5.7, 4.5, 3.3, 2.2, 1.1, 0.2, -0.30, -0.60, -0.50, -0.85, -0.70],
    [7.8, 6.7, 5.5, 4.3, 3.1, 2.0, 0.9, 0.0, -0.35, -0.55, -0.48, -0.68],
    [7.8, 6.8, 5.6, 4.4, 3.2, 2.1, 1.0, 0.1, -0.40, -0.70, -0.90, -0.82, -1.00],
]
retract_base_force_b = [
    [-1.08, -0.95, -1.10, -0.40, 0.10, -0.20, 0.05, -0.28, -0.05, 0.12,
     -0.18, 0.02, -0.32, -0.08, 0.06, -0.22, -0.10, 0.08, -0.30, -0.04,
     -0.15],
    [-1.02, -0.90, -0.20, 0.15, -0.10, 0.20, -0.18, 0.02, -0.25, 0.08,
     -0.12, -0.35, 0.00, 0.10, -0.22, -0.05, 0.12, -0.28, -0.08, 0.05,
     -0.18, 0.15, -0.10, -0.26, 0.02, -0.12],
    [-0.95, -1.15, -1.00, -1.18, -0.85, -0.25, 0.08, -0.15, 0.15, -0.08,
     -0.30, 0.05, -0.18, 0.10, -0.05, -0.25, 0.02, 0.14, -0.20, -0.02,
     0.08, -0.30, -0.10, 0.05, -0.15, 0.12, -0.22, 0.00, -0.08],
    [-0.95, -0.82, -1.05, -0.92, -0.98, -0.80, -0.72, -0.30, 0.10, -0.15,
     0.05, -0.22, 0.12, -0.08, -0.28, 0.04, -0.12, 0.10, -0.20, 0.00,
     -0.35, -0.06, 0.08, -0.18, 0.06, -0.10, 0.14, -0.24, -0.02, 0.10,
     -0.15, 0.00],
    [-0.70, -0.88, -0.75, -0.95, -0.80, -0.90, -0.62, -0.70, -0.55, -0.10,
     0.15, -0.12, 0.08, -0.20, -0.02, 0.12, -0.25, -0.05, 0.06, -0.15,
     0.18, -0.10, -0.28, 0.02, -0.08, 0.10, -0.18, 0.04, -0.24, 0.08,
     -0.06, 0.14, -0.12, 0.02],
    [-0.65, -0.48, -0.72, -0.55, -0.40, 0.05, -0.18, 0.12, -0.05, -0.30,
     0.02, 0.16, -0.12, -0.40, -0.08, 0.08, -0.22, 0.00, -0.15, 0.10,
     -0.28, -0.04, 0.12, -0.12, -0.02, 0.06, -0.20, 0.10, -0.10, -0.30,
     0.04, -0.08, 0.15, -0.16, 0.00, -0.06],
    [-0.30, -0.10, 0.15, -0.05, 0.22, -0.12, 0.08, -0.20, 0.18, -0.02,
     0.10, -0.15, 0.05, -0.25, 0.12, -0.08, 0.02, -0.18, 0.14, -0.04,
     0.08, -0.22, 0.00, 0.16, -0.10, 0.05, -0.20, 0.10, -0.06, 0.18,
     -0.14, 0.02, -0.25, 0.08, -0.04, 0.20, -0.12, 0.00],
    [-0.90, -0.78, -0.98, -0.85, -1.08, -0.92, -0.55, -0.15, 0.10, -0.08,
     0.20, -0.15, 0.05, -0.30, -0.05, 0.12, -0.20, 0.02, -0.12, 0.15,
     -0.25, -0.02, 0.08, -0.18, 0.04, -0.32, -0.08, 0.10, -0.14, 0.02,
     0.12, -0.20, -0.05, 0.08, -0.26, 0.05, -0.10, 0.20, -0.12, -0.02],
    [-0.58, -0.75, -0.62, -0.80, -0.68, -0.85, -0.72, -0.78, -0.60, -0.66,
     -0.35, -0.05, 0.12, -0.15, 0.06, -0.22, 0.00, -0.10, 0.14, -0.18,
     -0.02, 0.10, -0.28, -0.06, 0.08, -0.15, 0.18, -0.10, 0.02, -0.22,
     0.06, -0.04, 0.15, -0.12, -0.30, 0.04, -0.08, 0.12, -0.18, 0.00,
     0.22, -0.15],
    [-0.92, -1.06, -0.88, -1.12, -0.60, -0.20, 0.10, -0.12, 0.16, -0.05,
     -0.28, 0.06, -0.15, 0.12, -0.02, -0.22, 0.08, -0.10, 0.14, -0.18,
     0.00, -0.30, 0.05, 0.12, -0.15, -0.05, 0.18, -0.20, 0.02, -0.10,
     0.12, -0.25, 0.04, -0.08, 0.16, -0.14, 0.00, 0.22, -0.18, 0.05,
     -0.10, 0.15, -0.22, 0.08, -0.12],
]

# ---- retract curves, set c ----
retract_wall_sep_c = [
    [0.46, 0.42, 0.40, 0.44, 0.48, 0.45, 0.42, 0.50, 0.65, 0.85, 1.05, 1.30, 1.55],
    [0.68, 0.64, 0.62, 0.66, 0.70, 0.68, 0.64, 0.70, 0.85, 1.05, 1.25, 1.45, 1.62],
    [0.88, 0.84, 0.82, 0.86, 0.90, 0.88, 0.84, 0.90, 1.05, 1.20, 1.40, 1.62],
    [1.16, 1.12, 1.10, 1.14, 1.18, 1.15, 1.12, 1.18, 1.30, 1.45, 1.62],
    [1.30, 1.26, 1.24, 1.28, 1.32, 1.30, 1.26, 1.34, 1.48, 1.62],
    [0.58, 0.54, 0.52, 0.56, 0.60, 0.58, 0.54, 0.58, 0.70, 0.90, 1.15, 1.40, 1.62],
    [0.78, 0.74, 0.72, 0.76, 0.80, 0.78, 0.74, 0.80, 0.95, 1.15, 1.35, 1.55],
    [1.04, 1.00, 0.98, 1.02, 1.06, 1.04, 1.00, 1.06, 1.20, 1.38, 1.60],
    [1.38, 1.34, 1.32, 1.36, 1.40, 1.38, 1.35, 1.42, 1.55, 1.65],
    [0.50, 0.46, 0.44, 0.48, 0.52, 0.50, 0.46, 0.52, 0.70, 0.95, 1.20, 1.45, 1.65],
]
retract_wall_force_c = [
    [7.8, 7.2, 6.1, 4.9, 3.7, 2.5, 1.3, 0.3, -0.50, -0.75, -0.55, -0.90, -0.70],
    [7.8, 7.1, 6.0, 4.8, 3.6, 2.4, 1.2, 0.2, -0.45, -0.85, -1.00, -0.90, -1.05],
    [7.8, 7.2, 6.0, 4.8, 3.6, 2.4, 1.2, 0.1, -0.40, -0.70, -0.95, -0.80],
    [7.8, 7.1, 5.9, 4.7, 3.5, 2.3, 1.1, 0.2, -0.30, -0.55, -0.72],
    [7.8, 7.2, 6.0, 4.8, 3.6, 2.4, 1.2, 0.2, -0.25, -0.45],
    [7.8, 7.1, 5.9, 4.7, 3.5, 2.3, 1.1, 0.1, -0.55, -0.80, -0.95, -0.80, -1.00],
    [7.8, 7.2, 6.0, 4.8, 3.6, 2.4, 1.2, 0.15, -0.30, -0.50, -0.70, -0.60],
    [7.8, 7.1, 5.9, 4.7, 3.5, 2.3, 1.1, 0.1, -0.50, -0.80, -0.92],
    [7.8, 7.2, 6.0, 4.8, 3.6, 2.4, 1.2, 0.2, -0.10, -0.30],
    [7.8, 7.1, 6.0, 4.8, 3.6, 2.4, 1.2, 0.0, -0.35, -0.20, -0.45, -0.30, -0.50],
]
retract_base_force_c = [
    [-0.85, -1.00, -0.78, -0.35, 0.05, -0.22, 0.12, -0.10, -0.30, 0.02,
     -0.18, 0.10, -0.25, -0.05, 0.08, -0.20, -0.40],
    [-0.95, -1.12, -0.98, -1.15, -1.02, -0.88, -0.50, -0.15, 0.08, -0.20,
     0.12, -0.05, -0.28, 0.04, -0.15, 0.10, -0.22, -0.02, 0.14, -0.30,
     -0.08, 0.05],
    [-0.90, -1.02, -0.85, -0.96, -0.78, -0.88, -0.70, -0.76, -0.58, -0.20,
     0.10, -0.12, 0.18, -0.06, -0.24, 0.06, -0.14, 0.12, -0.30, -0.02,
     0.08, -0.18, 0.02, -0.10, 0.15, -0.22],
    [-0.80, -0.65, -0.85, -0.70, -0.88, -0.60, -0.72, -0.55, -0.62, -0.45,
     -0.50, -0.40, -0.05, 0.15, -0.10, 0.08, -0.22, 0.02, -0.15, 0.12,
     -0.28, -0.04, 0.10, -0.18, 0.05, -0.08, 0.16, -0.20, 0.00],
    [-0.55, -0.40, -0.62, -0.48, -0.35, 0.05, -0.15, 0.20, -0.08, 0.10,
     -0.25, 0.02, 0.14, -0.18, -0.02, 0.12, -0.30, 0.06, -0.10, 0.18,
     -0.16, 0.00, -0.24, 0.10, -0.06, 0.14, -0.20, 0.04, -0.12, 0.08,
     -0.28, 0.02],
    [-1.05, -0.92, -1.08, -0.95, -1.10, -0.98, -1.05, -0.75, -0.65, -0.30,
     0.05, -0.18, 0.12, -0.10, -0.32, 0.00, 0.14, -0.20, -0.06, 0.10,
     -0.25, 0.04, -0.12, 0.16, -0.08, -0.28, 0.06, -0.02, 0.12, -0.18,
     0.02, -0.22, 0.08, -0.10],
    [-0.55, -0.68, -0.50, -0.62, -0.45, -0.58, -0.20, 0.15, -0.08, 0.22,
     -0.12, 0.06, -0.25, 0.10, -0.04, 0.18, -0.18, 0.02, -0.30, 0.08,
     -0.10, 0.14, -0.22, 0.00, 0.12, -0.15, 0.05, -0.26, 0.10, -0.06,
     0.16, -0.12, 0.02, -0.20, 0.08, -0.02],
    [-1.00, -0.86, -1.05, -0.90, -0.40, 0.08, -0.15, 0.12, -0.22, 0.02,
     -0.10, 0.20, -0.28, -0.05, 0.10, -0.18, 0.06, -0.35, -0.02, 0.12,
     -0.12, 0.04, -0.24, 0.08, -0.06, 0.16, -0.20, 0.00, -0.12, 0.14,
     -0.26, 0.06, -0.04, 0.12, -0.16, 0.02, 0.20, -0.08],
    [-0.35, -0.15, 0.10, -0.22, 0.18, -0.05, 0.25, -0.12, 0.08, -0.30,
     0.04, 0.16, -0.18, 0.00, -0.10, 0.14, -0.24, 0.06, -0.04, 0.20,
     -0.16, 0.02, -0.28, 0.10, -0.08, 0.15, -0.20, 0.04, 0.12, -0.14,
     -0.02, 0.18, -0.22, 0.06, -0.10, 0.28, -0.06, 0.10, -0.18, 0.02],
    [-0.62, -0.45, -0.58, -0.20, 0.08, -0.15, 0.18, -0.02, -0.25, 0.10,
     -0.12, 0.04, -0.30, 0.12, -0.06, -0.20, 0.06, 0.16, -0.14, 0.00,
     -0.26, 0.10, -0.04, 0.14, -0.18, 0.02, -0.10, 0.20, -0.22, 0.04,
     -0.08, 0.12, -0.30, 0.00, 0.16, -0.12, 0.06, -0.20, 0.10, 0.30,
     -0.06, 0.12, -0.15],
]

# ---- retract curves, set d ----
retract_wall_sep_d = [
    [0.44, 0.40, 0.37, 0.42, 0.46, 0.42, 0.40, 0.48, 0.62, 0.80, 1.00, 1.25, 1.50, 1.72],
    [0.64, 0.60, 0.57, 0.62, 0.66, 0.62, 0.60, 0.66, 0.80, 1.00, 1.20, 1.45, 1.70],
    [0.84, 0.80, 0.77, 0.82, 0.86, 0.82, 0.80, 0.86, 1.00, 1.18, 1.38, 1.60, 1.78],
    [1.02, 0.98, 0.95, 1.00, 1.04, 1.00, 0.98, 1.05, 1.20, 1.40, 1.62, 1.80],
    [1.20, 1.16, 1.13, 1.18, 1.22, 1.18, 1.16, 1.24, 1.40, 1.60, 1.78],
    [1.34, 1.30, 1.27, 1.32, 1.36, 1.32, 1.30, 1.38, 1.55, 1.75],
    [0.54, 0.50, 0.47, 0.52, 0.56, 0.52, 0.50, 0.56, 0.75, 1.00, 1.25, 1.50, 1.75],
    [0.74, 0.70, 0.67, 0.72, 0.76, 0.72, 0.70, 0.76, 0.92, 1.12, 1.35, 1.58, 1.80],
    [0.94, 0.90, 0.87, 0.92, 0.96, 0.92, 0.90, 0.96, 1.12, 1.32, 1.55, 1.78],
    [1.12, 1.08, 1.05, 1.10, 1.14, 1.10, 1.08, 1.15, 1.30, 1.50, 1.72],
]
retract_wall_force_d = [
    [7.8, 6.0, 4.6, 3.4, 2.0, 1.0, 0.2, -0.40, -0.70, -0.95, -0.75, -1.05, -0.90, -1.10],
    [7.8, 6.1, 4.7, 3.3, 2.1, 1.1, 0.3, -0.30, -0.60, -0.40, -0.70, -0.55, -0.80],
    [7.8, 6.0, 4.6, 3.2, 2.0, 1.0, 0.2, -0.35, -0.75, -1.00, -0.85, -1.10, -0.95],
    [7.8, 6.1, 4.7, 3.3, 2.1, 1.1, 0.3, -0.20, -0.50, -0.75, -0.62, -0.85],
    [7.8, 6.0, 4.6, 3.2, 2.0, 1.0, 0.2, -0.30, -0.60, -0.85, -0.70],
    [7.8, 6.1, 4.7, 3.3, 2.1, 1.1, 0.3, -0.15, -0.40, -0.30],
    [7.8, 6.0, 4.6, 3.2, 2.0, 1.0, 0.1, -0.50, -0.80, -0.65, -0.95, -0.85, -1.02],
    [7.8, 6.1, 4.7, 3.3, 2.1, 1.1, 0.3, -0.25, -0.55, -0.80, -0.70, -0.98, -0.88],
    [7.8, 6.0, 4.6, 3.2, 2.0, 1.0, 0.2, -0.30, -0.20, -0.45, -0.35, -0.55],
    [7.8, 6.1, 4.7, 3.3, 2.1, 1.1, 0.2, -0.40, -0.70, -0.95, -1.05],
]
retract_base_force_d = [
    [-0.95, -1.15, -0.90, -0.30, 0.15, -0.25, 0.05, -0.40, 0.10, -0.15,
     -0.35, 0.20, -0.05, -0.30, 0.08, -0.45, -0.10, 0.12, -0.22],
    [-0.65, -0.85, -0.60, -0.78, -0.55, -0.20, 0.20, -0.15, -0.38, 0.12,
     -0.05, -0.30, 0.25, -0.20, 0.00, -0.42, 0.10, -0.18, 0.18, -0.32,
     -0.05, 0.15, -0.25],
    [-1.08, -0.92, -1.15, -1.00, -1.20, -0.85, -0.95, -0.45, 0.10, -0.25,
     0.20, -0.10, -0.38, 0.05, 0.22, -0.28, -0.02, 0.15, -0.35, 0.08,
     -0.20, 0.25, -0.12, -0.40, 0.12, -0.05],
    [-0.75, -0.95, -0.70, -0.88, -0.65, -0.80, -0.58, -0.70, -0.30, 0.15,
     -0.20, 0.25, -0.12, -0.40, 0.08, -0.25, 0.18, -0.05, -0.35, 0.20,
     -0.15, 0.05, -0.42, 0.12, -0.08, 0.22, -0.30, 0.02, -0.18],
    [-0.90, -0.72, -0.95, -0.78, -1.00, -0.70, -0.82, -0.60, -0.68, -0.52,
     -0.58, -0.20, 0.18, -0.15, 0.28, -0.30, 0.05, -0.10, 0.20, -0.38,
     0.00, 0.15, -0.25, 0.10, -0.45, -0.05, 0.22, -0.18, 0.08, -0.30,
     0.12],
    [-0.45, -0.20, 0.15, -0.30, 0.22, -0.10, -0.35, 0.10, 0.28, -0.22,
     0.02, -0.40, 0.18, -0.05, 0.25, -0.28, 0.08, -0.15, 0.30, -0.32,
     0.00, 0.20, -0.18, -0.42, 0.12, -0.08, 0.26, -0.25, 0.05, 0.18,
     -0.35, 0.10, -0.12],
    [-0.90, -1.10, -0.88, -1.05, -0.80, -0.95, -0.70, -0.20, 0.12, -0.30,
     0.20, -0.45, 0.02, -0.15, 0.25, -0.35, -0.05, 0.15, -0.50, 0.08,
     -0.20, 0.22, -0.28, 0.00, -0.38, 0.18, -0.10, 0.10, -0.32, 0.24,
     -0.15, 0.05, -0.40, 0.14, -0.08],
    [-1.00, -0.85, -1.10, -0.92, -1.02, -0.78, -0.40, 0.05, -0.22, 0.18,
     -0.35, 0.10, -0.12, 0.25, -0.28, -0.02, 0.20, -0.42, 0.06, -0.18,
     0.28, -0.08, -0.30, 0.15, -0.20, 0.02, 0.22, -0.36, 0.10, -0.12,
     0.18, -0.25, 0.04, 0.26, -0.18, 0.08, -0.30],
    [-0.48, -0.62, -0.40, -0.58, -0.45, -0.60, -0.38, -0.52, -0.15, 0.20,
     -0.12, 0.26, -0.30, 0.08, -0.18, 0.22, -0.40, 0.02, 0.16, -0.25,
     0.10, -0.35, 0.24, -0.06, -0.20, 0.18, -0.30, 0.05, 0.28, -0.15,
     -0.02, 0.20, -0.38, 0.12, -0.10, 0.30, -0.22, 0.06, -0.12],
    [-1.12, -0.98, -1.18, -1.05, -1.22, -0.92, -0.60, -0.15, 0.15, -0.28,
     0.08, -0.40, 0.22, -0.10, -0.32, 0.18, -0.05, 0.26, -0.35, 0.02,
     -0.18, 0.20, -0.45, 0.10, -0.08, 0.24, -0.28, 0.04, -0.15, 0.30,
     -0.22, 0.00, 0.16, -0.38, 0.12, -0.10, 0.28, -0.20, 0.06, 0.35,
     -0.15],
]

# ---------------- figure ----------------
BLUE = "#1f77b4"
ORANGE = "#ff7f0e"
FONT = "DejaVu Sans"
LW = 2.7

fig = go.Figure()


def add_curve(wall_sep, wall_force, grid, base_force, color):
    fig.add_trace(go.Scatter(
        x=wall_sep + grid[:len(base_force)],
        y=wall_force + base_force,
        mode="lines", line=dict(color=color, width=LW),
        showlegend=False, hoverinfo="skip"))


sets = [
    (approach_wall_sep_a, approach_wall_force_a, approach_sep_grid_a, approach_base_force_a,
     retract_wall_sep_a, retract_wall_force_a, retract_sep_grid_a, retract_base_force_a),
    (approach_wall_sep_b, approach_wall_force_b, approach_sep_grid_b, approach_base_force_b,
     retract_wall_sep_b, retract_wall_force_b, retract_sep_grid_b, retract_base_force_b),
    (approach_wall_sep_c, approach_wall_force_c, approach_sep_grid_c, approach_base_force_c,
     retract_wall_sep_c, retract_wall_force_c, retract_sep_grid_c, retract_base_force_c),
    (approach_wall_sep_d, approach_wall_force_d, approach_sep_grid_d, approach_base_force_d,
     retract_wall_sep_d, retract_wall_force_d, retract_sep_grid_d, retract_base_force_d),
]
for i in range(10):
    for (aws, awf, ag, abf, rws, rwf, rg, rbf) in sets:
        add_curve(aws[i], awf[i], ag, abf[i], BLUE)
        add_curve(rws[i], rwf[i], rg, rbf[i], ORANGE)

axis_common = dict(
    showline=True, linecolor="black", linewidth=1, mirror=True,
    ticks="outside", ticklen=5, tickwidth=1, tickcolor="black",
    showgrid=True, gridcolor="#b0b0b0", gridwidth=1, zeroline=False,
    automargin=False,
    tickfont=dict(family=FONT, size=16, color="black"),
)
fig.update_xaxes(range=[-3, 35], tickvals=x_ticks, **axis_common)
fig.update_yaxes(range=[-2, 7], tickvals=y_ticks, **axis_common)

fig.update_layout(
    template="none",
    width=680, height=526,
    margin=dict(l=77, r=11, t=33, b=52, autoexpand=False),
    paper_bgcolor="white", plot_bgcolor="white",
    font=dict(family=FONT, color="black"),
    title=dict(text=title_text, x=0.5, xref="paper", xanchor="center",
               y=1 - 15 / 526, yref="container", yanchor="middle",
               font=dict(family=FONT, size=20, color="black")),
    annotations=[
        dict(text=x_label, xref="paper", yref="paper", x=0.5, y=0,
             yshift=-43, xanchor="center", yanchor="middle", showarrow=False,
             font=dict(family=FONT, size=16.5, color="black")),
        dict(text=y_label, xref="paper", yref="paper", x=0, y=0.5,
             xshift=-52, xanchor="center", yanchor="middle", textangle=-90,
             showarrow=False, font=dict(family=FONT, size=16.5, color="black")),
    ],
)

fig.write_html(
    "out.html",
    config={"displayModeBar": False},
    post_script="document.body.style.margin='0';document.body.style.overflow='hidden';",
)
